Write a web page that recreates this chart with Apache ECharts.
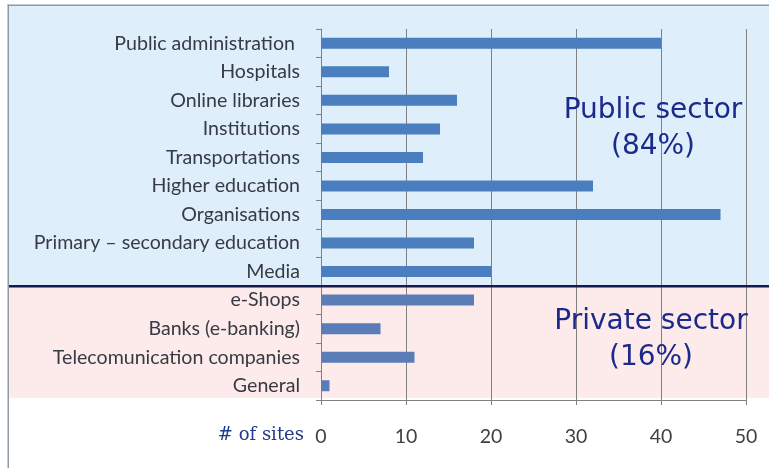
<!DOCTYPE html>
<html>
<head>
<meta charset="utf-8">
<script src="https://cdn.jsdelivr.net/npm/echarts@6/dist/echarts.min.js"></script>
<style>html,body{margin:0;padding:0;background:#fff}#c{width:769px;height:468px}</style>
</head>
<body>
<div id="c"></div>
<script>
const categories = ['Public administration ', 'Hospitals', 'Online libraries', 'Institutions', 'Transportations', 'Higher education', 'Organisations', 'Primary – secondary education', 'Media', 'e-Shops', 'Banks (e-banking)', 'Telecomunication companies', 'General'];
const publicValues = [40, 8, 16, 14, 12, 32, 47, 18, 20];
const privateValues = [18, 7, 11, 1];
const xTicks = [0, 10, 20, 30, 40, 50];
const publicLabel = 'Public sector\n(84%)';
const privateLabel = 'Private sector\n(16%)';
const xName = '# of sites';

const values = publicValues.concat(privateValues);
const barData = values.map((v, i) => ({
  value: v,
  itemStyle: { color: i < publicValues.length ? '#4a7ebf' : '#5a7cb7' }
}));

const chart = echarts.init(document.getElementById('c'), null, { renderer: 'canvas' });
const labelFont = 'Lato, "Open Sans", sans-serif';
chart.setOption({
  animation: false,
  backgroundColor: '#ffffff',
  grid: { left: 321, right: 23, top: 29, bottom: 68 },
  xAxis: {
    type: 'value', min: xTicks[0], max: xTicks[xTicks.length - 1], interval: 10,
    axisLine: { show: true, lineStyle: { color: '#808080', width: 1 } },
    axisTick: { show: true, length: 5, lineStyle: { color: '#808080' } },
    splitLine: { show: true, lineStyle: { color: '#808080', width: 1 } },
    axisLabel: { margin: 27, fontFamily: labelFont, fontSize: 19.5, color: '#404040' }
  },
  yAxis: {
    type: 'category', inverse: true, data: categories,
    axisLine: { show: true, lineStyle: { color: '#808080', width: 1 } },
    axisTick: { show: true, length: 5, lineStyle: { color: '#808080' } },
    axisLabel: { margin: 21, fontFamily: labelFont, fontSize: 19.6, color: '#363b44' }
  },
  series: [{
    type: 'bar', data: barData, barWidth: 11, z: 3
  }]
});

const yMedia = chart.convertToPixel({ yAxisIndex: 0 }, categories[publicValues.length - 1]);
const yShops = chart.convertToPixel({ yAxisIndex: 0 }, categories[publicValues.length]);
const boundary = Math.round((yMedia + yShops) / 2);
const axisBottom = chart.convertToPixel({ yAxisIndex: 0 }, categories[categories.length - 1]) + (yShops - yMedia) / 2;
const x0 = chart.convertToPixel({ xAxisIndex: 0 }, 0);

chart.setOption({
  graphic: [
    { type: 'rect', z: -10, shape: { x: 9, y: 6, width: 760, height: boundary - 6 }, style: { fill: '#deeefb' } },
    { type: 'rect', z: -10, shape: { x: 9, y: boundary, width: 760, height: axisBottom - boundary - 2 }, style: { fill: '#fdeaea' } },
    { type: 'rect', z: 10, shape: { x: 9, y: boundary - 1, width: 760, height: 2.5 }, style: { fill: '#16194f' } },
    { type: 'rect', z: 10, shape: { x: 7.5, y: 4.5, width: 762, height: 1.5 }, style: { fill: '#8f9aa3' } },
    { type: 'rect', z: 10, shape: { x: 7.5, y: 4.5, width: 1.5, height: 464 }, style: { fill: '#8f9aa3' } },
    { type: 'text', z: 20, x: 653, y: 93, style: { text: publicLabel, fill: '#1b2a8a', font: '28px "DejaVu Sans", sans-serif', textAlign: 'center', lineHeight: 36 } },
    { type: 'text', z: 20, x: 651, y: 304, style: { text: privateLabel, fill: '#1b2a8a', font: '28px "DejaVu Sans", sans-serif', textAlign: 'center', lineHeight: 36 } },
    { type: 'text', z: 20, x: x0 - 17, y: axisBottom + 35, style: { text: xName, fill: '#203a8c', font: '18px "DejaVu Serif", serif', textAlign: 'right', textVerticalAlign: 'middle' } }
  ]
});
</script>
</body>
</html>
